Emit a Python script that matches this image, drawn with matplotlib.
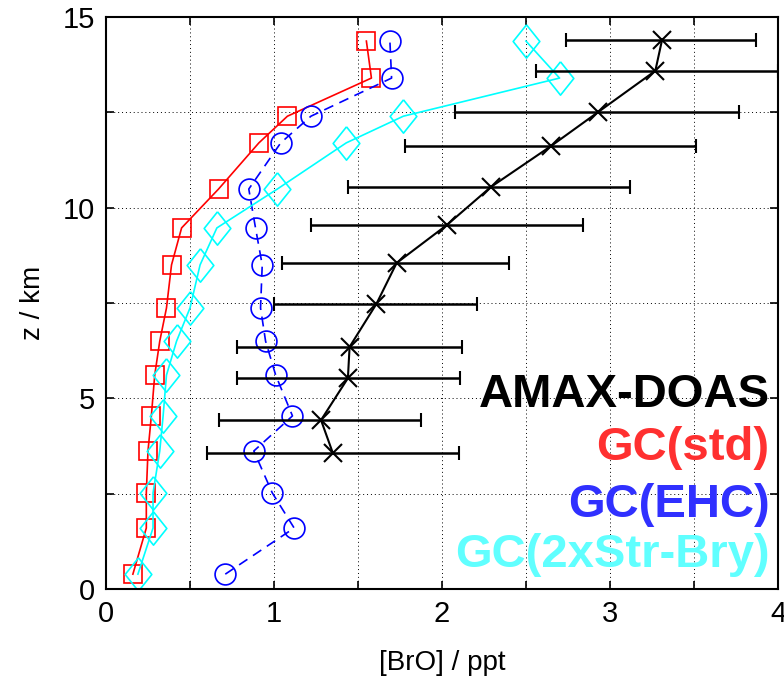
import matplotlib
matplotlib.use("Agg")
import matplotlib.pyplot as plt

plt.rcParams['font.family'] = ['Liberation Sans', 'DejaVu Sans']

# model altitude levels (km)
z_gc = [0.39, 1.6, 2.52, 3.62, 4.54, 5.61, 6.5, 7.37, 8.5, 9.47, 10.49, 11.7, 12.4, 13.4, 14.37]
bro_std = [0.16, 0.24, 0.24, 0.25, 0.27, 0.29, 0.32, 0.36, 0.39, 0.45, 0.67, 0.91, 1.08, 1.58, 1.55]
bro_ehc = [0.71, 1.12, 0.99, 0.88, 1.11, 1.01, 0.95, 0.92, 0.93, 0.89, 0.85, 1.04, 1.22, 1.70, 1.69]
bro_2x = [0.19, 0.28, 0.28, 0.32, 0.34, 0.36, 0.42, 0.50, 0.56, 0.66, 1.02, 1.43, 1.77, 2.70, 2.50]

# AMAX-DOAS profile with error range
z_obs = [3.57, 4.43, 5.53, 6.35, 7.48, 8.55, 9.55, 10.54, 11.62, 12.51, 13.59, 14.4]
bro_obs = [1.35, 1.28, 1.44, 1.45, 1.61, 1.73, 2.03, 2.29, 2.65, 2.93, 3.27, 3.31]
obs_lo = [0.60, 0.67, 0.78, 0.78, 1.00, 1.05, 1.22, 1.44, 1.78, 2.08, 2.56, 2.74]
obs_hi = [2.10, 1.875, 2.11, 2.12, 2.21, 2.40, 2.84, 3.12, 3.51, 3.77, 4.0, 3.87]

labels = ['AMAX-DOAS', 'GC(std)', 'GC(EHC)', 'GC(2xStr-Bry)']
label_colors = ['black', '#ff3030', '#3030ff', '#60ffff']

# slightly tall diamond like the matlab marker
diamond = [(0, 1.25), (1, 0), (0, -1.25), (-1, 0), (0, 1.25)]

fig = plt.figure(figsize=(7.84, 6.85), dpi=100)
ax = fig.add_axes([0.1352, 0.1401, 0.8571, 0.8350])

xerr = [[b - l for b, l in zip(bro_obs, obs_lo)], [h - b for b, h in zip(bro_obs, obs_hi)]]
ax.errorbar(bro_obs, z_obs, xerr=xerr, color='black', marker='x', markersize=13,
            mew=1.5, lw=1.5, elinewidth=1.8, capsize=5, capthick=1.8, zorder=5)

ax.plot(bro_std, z_gc, color='red', marker='s', markersize=13, mfc='none', mew=1.2, lw=1.2)
ax.plot(bro_ehc, z_gc, color='blue', marker='o', markersize=15, mfc='none', mew=1.2, lw=1.2,
        linestyle=(0, (6, 4)))
ax.plot(bro_2x, z_gc, color='cyan', marker=diamond, markersize=24, mfc='none', mew=1.2, lw=1.2)

ax.set_xlim(0, 4)
ax.set_ylim(0, 15)
xt = [i * 0.5 for i in range(9)]
yt = [i * 2.5 for i in range(7)]
ax.set_xticks(xt)
ax.set_xticklabels([str(int(v)) if v == int(v) else '' for v in xt])
ax.set_yticks(yt)
ax.set_yticklabels([str(int(v)) if v % 5 == 0 else '' for v in yt])
ax.tick_params(direction='in', top=True, right=True, length=6, width=1.2, labelsize=21, pad=8)
ax.grid(True, linestyle=(0, (1, 3)), color='black', linewidth=0.7)
for s in ax.spines.values():
    s.set_linewidth(1.5)

ax.set_xlabel('[BrO] / ppt', fontsize=20, labelpad=16)
ax.set_ylabel('z / km', fontsize=20, labelpad=12)

text_y = [4.78, 3.38, 1.89, 0.58]
for lab, col, ty in zip(labels, label_colors, text_y):
    ax.text(3.95, ty, lab, color=col, fontsize=34, fontweight='bold', ha='right',
            va='baseline', zorder=10)

fig.savefig('out.png', dpi=100)
